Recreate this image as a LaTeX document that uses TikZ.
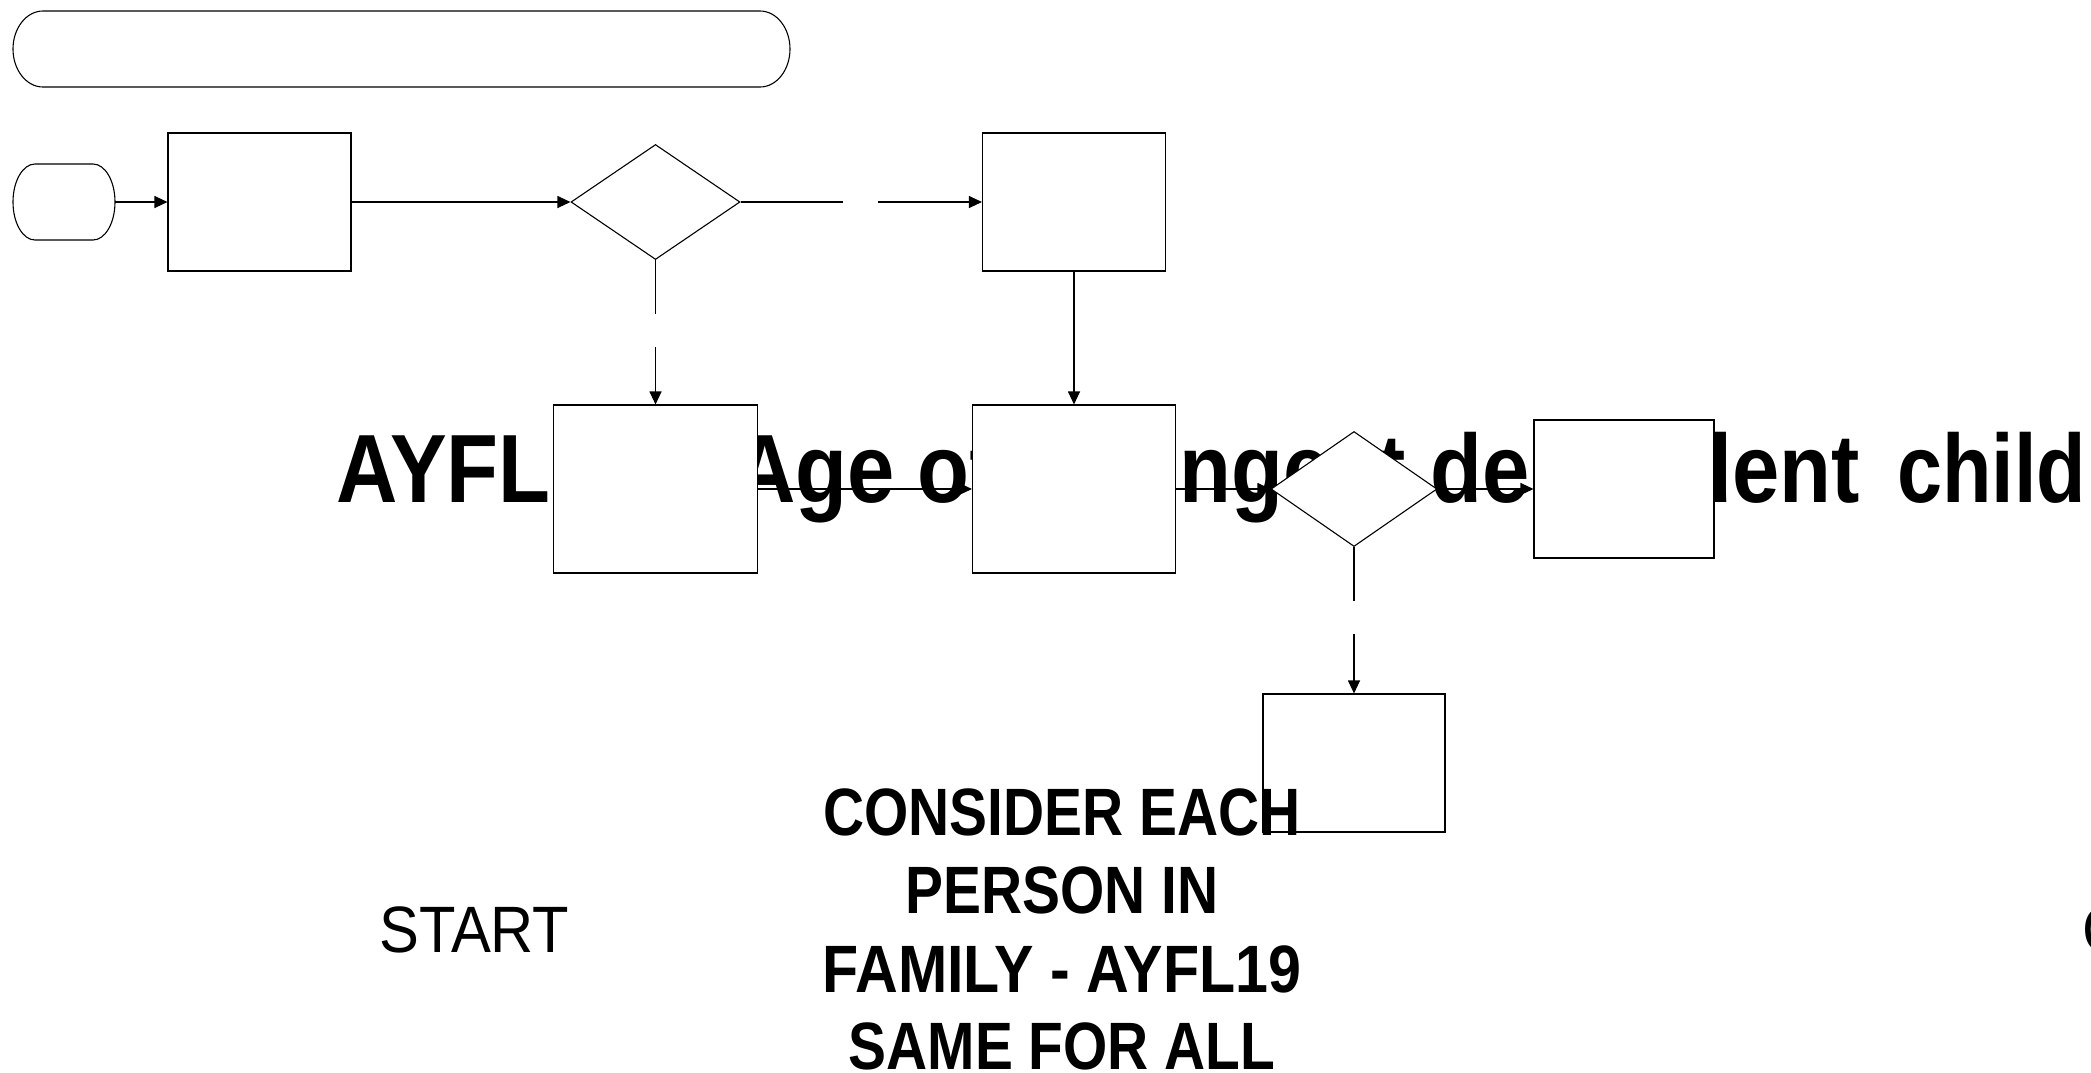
\documentclass[tikz,border=0pt]{standalone}
\usepackage{fontspec}
\setmainfont{Liberation Sans}
\usepackage{graphicx}
\usetikzlibrary{shapes.geometric,arrows.meta}
\newcommand{\sqztxt}[2]{\scalebox{#1}[1]{#2}}
\begin{document}
\begin{tikzpicture}[x=1pt,y=-1pt,
  boxnode/.style={draw=black, fill=white, rectangle, inner sep=0pt, line width=1.1pt},
  decision/.style={draw=black, fill=white, diamond, inner sep=0pt, line width=1.1pt},
  ghost/.style={inner sep=0pt, outer sep=0pt},
  plainline/.style={line width=1.1pt},
  conn/.style={line width=1.1pt, -{Triangle[length=13pt,width=12pt]}},
  bigtitle/.style={anchor=base west, inner sep=0pt, font=\fontsize{97}{100}\selectfont\bfseries},
  boldlabel/.style={anchor=base, inner sep=0pt, font=\fontsize{67}{78}\selectfont\bfseries},
  reglabel/.style={anchor=base west, inner sep=0pt, font=\fontsize{65.6}{70}\selectfont}]
\useasboundingbox (0,0) rectangle (2091,1072);

% title text, word by word (lies under the shapes)
\node[bigtitle] (tw1) at (336.5,502) {\sqztxt{0.876}{AYFL19 -}};
\node[bigtitle] (tw2) at (734,502) {\sqztxt{0.876}{Age}};
\node[bigtitle] (tw3) at (917,502) {\sqztxt{0.876}{of}};
\node[bigtitle] (tw4) at (1028,502) {\sqztxt{0.876}{youngest}};
\node[bigtitle] (tw5) at (1430,502) {\sqztxt{0.876}{dependent}};
\node[bigtitle] (tw6) at (1897,502) {\sqztxt{0.835}{child}};

% terminators
\node[ghost, minimum width=777pt, minimum height=76pt] (tb) at (401.5,49) {};
\draw[plainline, fill=white] ([xshift=30pt]tb.north west) -- ([xshift=-30pt]tb.north east)
  arc[start angle=-90, end angle=90, x radius=30, y radius=38]
  -- ([xshift=30pt]tb.south west)
  arc[start angle=90, end angle=270, x radius=30, y radius=38] -- cycle;

\node[ghost, minimum width=102pt, minimum height=76pt] (st) at (64,202) {};
\draw[plainline, fill=white] ([xshift=22pt]st.north west) -- ([xshift=-22pt]st.north east)
  arc[start angle=-90, end angle=90, x radius=22, y radius=38]
  -- ([xshift=22pt]st.south west)
  arc[start angle=90, end angle=270, x radius=22, y radius=38] -- cycle;

% process boxes
\node[boxnode, minimum width=183pt, minimum height=138pt] (r1) at (259.5,202) {};
\node[boxnode, minimum width=183pt, minimum height=138pt] (r2) at (1074,202) {};
\node[boxnode, minimum width=204pt, minimum height=168pt] (r3) at (655.5,489) {};
\node[boxnode, minimum width=203pt, minimum height=168pt] (r4) at (1074,489) {};
\node[boxnode, minimum width=180pt, minimum height=138pt] (r5) at (1624,489) {};
\node[boxnode, minimum width=182pt, minimum height=138pt] (r6) at (1354,763) {};

% decisions
\node[decision, minimum width=169pt, minimum height=115pt] (d1) at (655.5,202) {};
\node[decision, minimum width=166pt, minimum height=115pt] (d2) at (1354,489) {};

% gap coordinates
\coordinate (g1a) at (843,202);
\coordinate (g1b) at (878,202);
\coordinate (g2a) at (655.5,314);
\coordinate (g2b) at (655.5,347);
\coordinate (g3a) at (1354,601);
\coordinate (g3b) at (1354,634);

% connectors
\draw[conn] (st.east) -- (r1.west);
\draw[conn] (r1.east) -- (d1.west);
\draw[plainline] (d1.east) -- (g1a);
\draw[conn] (g1b) -- (r2.west);
\draw[plainline] (d1.south) -- (g2a);
\draw[conn] (g2b) -- (r3.north);
\draw[conn] (r2.south) -- (r4.north);
\draw[conn] (r3.east) -- (r4.west);
\draw[conn] (r4.east) -- (d2.west);
\draw[conn] (d2.east) -- (r5.west);
\draw[plainline] (d2.south) -- (g3a);
\draw[conn] (g3b) -- (r6.north);

% displaced labels (on top)
\node[reglabel] (lstart) at (379,952) {\sqztxt{0.91}{START}};
\node[boldlabel] (l1) at (1062,835) {\sqztxt{0.849}{CONSIDER EACH}};
\node[boldlabel] (l2) at (1062,913) {\sqztxt{0.849}{PERSON IN}};
\node[boldlabel] (l3) at (1062,992) {\sqztxt{0.883}{FAMILY - AYFL19}};
\node[boldlabel] (l4) at (1062,1069) {\sqztxt{0.849}{SAME FOR ALL}};
\node[reglabel] (lend) at (2082,952) {\sqztxt{0.91}{C}};
\end{tikzpicture}
\end{document}
